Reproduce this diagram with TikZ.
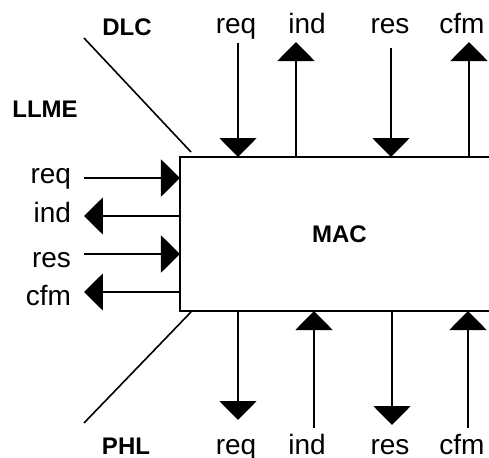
\documentclass[tikz,border=0pt]{standalone}
\usepackage{fontspec}
\setmainfont{Liberation Sans}
\usetikzlibrary{arrows.meta,positioning}

\begin{document}
\begin{tikzpicture}[x=0.5pt,y=-0.5pt,line width=1pt,
  endtip/.style={-{Triangle[length=9.5pt,width=18.5pt]}},
  starttip/.style={{Triangle[length=9.5pt,width=18.5pt]}-},
  prim/.style={font=\fontsize{14}{17}\selectfont,inner sep=0pt},
  layer/.style={font=\fontsize{12}{14}\selectfont\bfseries,inner sep=0pt}]
% one unit is one pixel of the 489x457 frame, y running down
\useasboundingbox (0,0) rectangle (489,457);

% the MAC box: three heavy sides, the right one faint
\node[minimum width=153.5pt,minimum height=76pt,inner sep=0pt] (mac) at (334.5,234) {};
\draw (mac.north east) -- (mac.north west) -- (mac.south west) -- (mac.south east);
\draw[black!40,line width=0.4pt] (mac.north east) -- (mac.south east);
\node[layer] (mactext) at ([xshift=2.5pt]mac.center) {MAC};

% service primitives above and below
\foreach \x/\y/\s in {238/43/endtip, 296/42/starttip, 391/48/endtip, 469/42/starttip}{
  \coordinate (top\x) at (\x,\y);
  \draw[\s] (top\x) -- (top\x |- mac.north);}
\foreach \x/\y/\s in {238/420/endtip, 314/428/starttip, 392/425/endtip, 468/428/starttip}{
  \coordinate (bot\x) at (\x,\y);
  \draw[\s] (bot\x |- mac.south) -- (bot\x);}

% and on the left, from the management entity
\foreach \y/\s in {178/endtip, 216/starttip, 254/endtip, 292/starttip}{
  \coordinate (lft\y) at (84,\y);
  \draw[\s] (lft\y) -- (lft\y -| mac.west);}

\foreach \x/\l in {236/req,307/ind,390/res,462/cfm}{
  \node[prim,anchor=base] (t\l) at (\x,33) {\l};
  \node[prim,anchor=base] (b\l) at (\x,454) {\l};}
\foreach \y/\l in {183/req,222/ind,267/res,305/cfm}{
  \node[prim,anchor=base east] (l\l) at (72,\y) {\l};}

% layer boundaries
\node[layer,anchor=base] (dlc) at (127,35) {DLC};
\node[layer,anchor=base] (llme) at (45,117) {LLME};
\node[layer,anchor=base] (phl) at (126,454) {PHL};
\coordinate (dlcend) at (84,38);
\coordinate (phlend) at (84,423);
\draw[line width=0.8pt] (dlcend) -- ([shift={(11,-5)}]mac.north west);
\draw[line width=0.8pt] ([shift={(11,1)}]mac.south west) -- (phlend);
\end{tikzpicture}
\end{document}
